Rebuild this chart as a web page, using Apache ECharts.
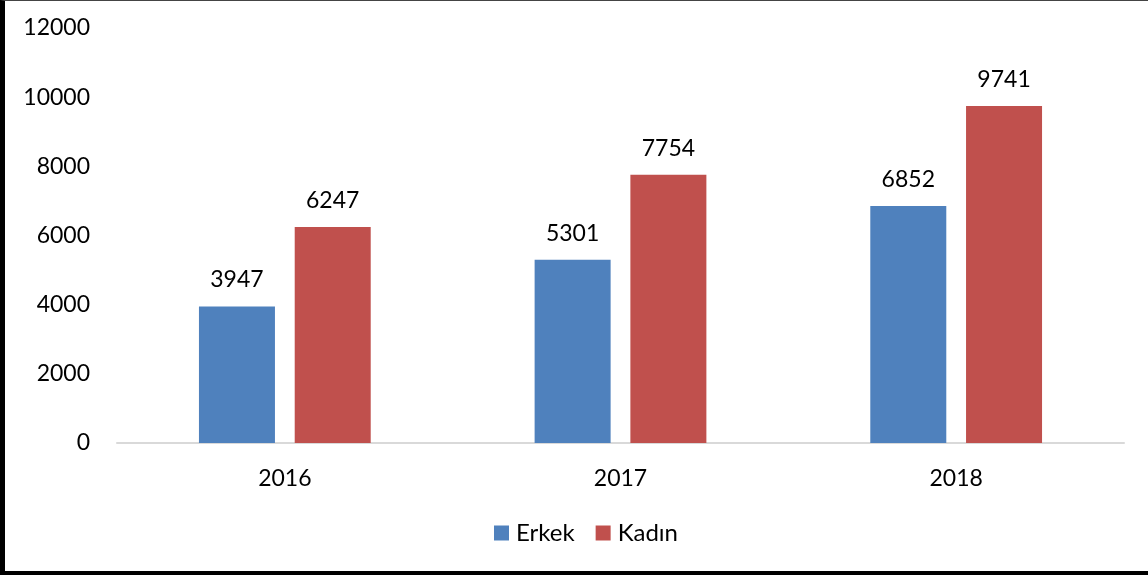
<!DOCTYPE html>
<html>
<head>
<meta charset="utf-8">
<script src="https://cdn.jsdelivr.net/npm/echarts@6/dist/echarts.min.js"></script>
<style>
html,body{margin:0;padding:0;background:#fff;}
#frame{position:absolute;left:0;top:0;width:1148px;height:575px;box-sizing:border-box;border-left:5px solid #000;border-bottom:4px solid #000;border-top:1px solid #444;}
#chart{position:absolute;left:0;top:0;width:1148px;height:575px;}
</style>
</head>
<body>
<div id="chart"></div>
<div id="frame"></div>
<script>
const categories = ['2016', '2017', '2018'];
const erkek = [3947, 5301, 6852];
const kadin = [6247, 7754, 9741];
const seriesNames = ['Erkek', 'Kadın'];
const yTicks = [0, 2000, 4000, 6000, 8000, 10000, 12000];

const font = 'Lato, "Open Sans", sans-serif';
const chart = echarts.init(document.getElementById('chart'));
chart.setOption({
  animation: false,
  textStyle: { fontFamily: font },
  grid: { left: 117, right: 24, top: 28, bottom: 132 },
  legend: {
    data: seriesNames,
    top: 516,
    left: 489,
    itemWidth: 15, itemHeight: 15, itemGap: 21,
    icon: 'rect',
    textStyle: { fontFamily: font, fontSize: 24, color: '#000', padding: [0, 0, 0, 2] }
  },
  xAxis: {
    type: 'category',
    data: categories,
    axisLine: { lineStyle: { color: '#d9d9d9', width: 2 } },
    axisTick: { show: false },
    axisLabel: { fontFamily: font, fontSize: 23, color: '#000', margin: 24 }
  },
  yAxis: {
    type: 'value',
    min: yTicks[0], max: yTicks[yTicks.length - 1], interval: 2000,
    splitLine: { show: false },
    axisLine: { show: false },
    axisTick: { show: false },
    axisLabel: { fontFamily: font, fontSize: 23, color: '#000', margin: 27, formatter: v => String(v) }
  },
  series: [
    {
      name: seriesNames[0], type: 'bar', data: erkek,
      barWidth: 76, barGap: '26%',
      itemStyle: { color: '#4f81bd' },
      label: { show: true, position: 'top', distance: 15, fontFamily: font, fontSize: 23, color: '#000' }
    },
    {
      name: seriesNames[1], type: 'bar', data: kadin,
      barWidth: 76,
      itemStyle: { color: '#c0504d' },
      label: { show: true, position: 'top', distance: 15, fontFamily: font, fontSize: 23, color: '#000' }
    }
  ]
});
</script>
</body>
</html>
